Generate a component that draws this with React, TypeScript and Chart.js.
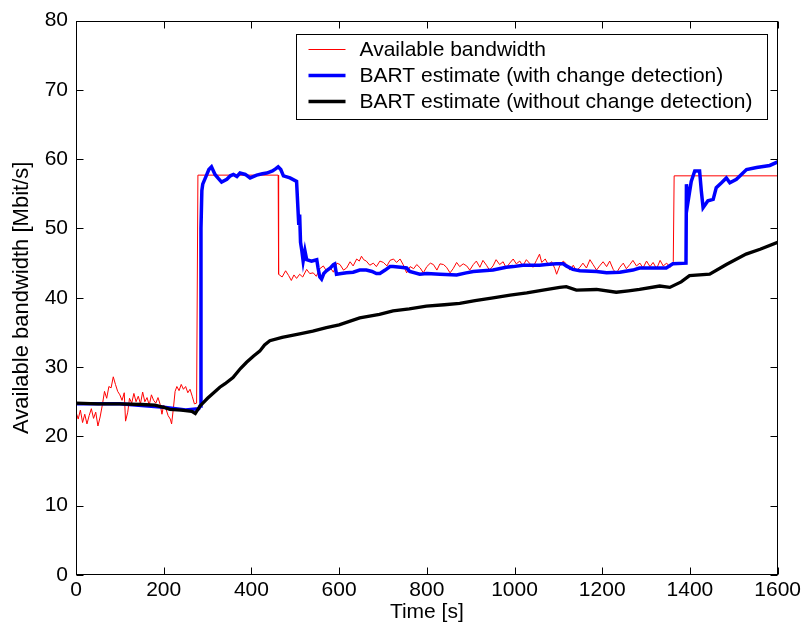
import React, { useEffect, useRef } from 'react';
import { Chart, registerables } from 'chart.js';

Chart.register(...registerables);

const FONT = '"Liberation Sans", Arial, Helvetica, sans-serif';

// Available bandwidth (red)
const redTime = [
  0, 5, 10, 15, 20, 25, 30, 35, 40, 45, 50, 55, 60, 65, 70, 75, 80, 85, 90, 95, 100, 105, 110, 113, 118, 122,
  127, 132, 137, 142, 147, 152, 157, 162, 167, 172, 177, 182, 187, 192, 196, 200, 205, 210, 215, 218, 222, 226,
  230, 235, 240, 245, 250, 255, 260, 265, 270, 275, 278, 461, 462, 470, 478, 485, 491, 497, 503, 510, 517, 526,
  533, 541, 548, 556, 564, 571, 579, 587, 595, 602, 610, 617, 625, 632, 640, 646, 651, 656, 662, 670, 678, 685,
  693, 701, 709, 716, 724, 731, 739, 746, 754, 762, 770, 777, 785, 792, 800, 808, 815, 823, 830, 838, 845, 853,
  860, 868, 875, 883, 891, 898, 906, 913, 921, 928, 936, 943, 951, 958, 966, 974, 981, 989, 997, 1004, 1012,
  1019, 1027, 1034, 1042, 1050, 1057, 1062, 1070, 1077, 1085, 1092, 1096, 1103, 1111, 1118, 1126, 1134, 1141,
  1149, 1156, 1164, 1172, 1179, 1187, 1194, 1202, 1210, 1217, 1225, 1232, 1240, 1248, 1255, 1263, 1270, 1278,
  1286, 1293, 1301, 1309, 1316, 1324, 1332, 1339, 1347, 1355, 1362, 1364, 1600,
];
const redValue = [
  23.5, 22.5, 23.8, 22.0, 23.2, 21.8, 23.0, 24.0, 22.6, 23.5, 21.5, 22.8, 24.5, 26.5, 25.5, 27.2, 27.0, 28.6,
  27.5, 26.5, 26.0, 25.2, 26.3, 22.2, 23.5, 25.5, 24.8, 26.2, 25.0, 25.8, 24.7, 26.4, 25.0, 25.6, 24.5, 26.0,
  25.2, 24.8, 25.6, 24.6, 23.2, 24.5, 24.0, 23.0, 22.5, 21.8, 24.0, 26.5, 27.2, 26.6, 27.5, 26.8, 27.2, 26.3,
  26.8, 25.8, 24.7, 24.8, 57.7, 57.7, 43.4, 43.0, 43.9, 43.2, 42.5, 43.3, 42.8, 43.4, 43.0, 44.1, 43.5, 43.6,
  43.1, 44.2, 44.6, 43.9, 44.4, 43.7, 45.0, 44.8, 44.0, 44.3, 45.2, 44.6, 45.6, 45.3, 46.0, 45.5, 45.3, 44.7,
  45.0, 44.5, 45.3, 45.1, 44.6, 45.4, 45.6, 45.1, 45.6, 44.8, 43.6, 44.5, 44.2, 44.8, 44.3, 43.6, 44.5, 45.0,
  44.8, 44.0, 44.9, 44.8, 44.4, 43.6, 44.2, 45.1, 44.5, 44.9, 44.6, 44.0, 44.8, 45.3, 44.4, 45.4, 44.7, 44.0,
  44.6, 45.5, 44.8, 45.2, 44.3, 45.0, 45.6, 44.9, 45.3, 44.6, 45.5, 45.0, 44.4, 45.4, 46.3, 45.1, 45.6, 44.8,
  45.2, 44.2, 43.4, 44.6, 45.3, 44.9, 44.0, 44.7, 43.9, 44.4, 45.0, 44.3, 45.5, 44.8, 44.0, 44.6, 45.2, 44.5,
  45.3, 44.1, 43.5, 44.4, 45.0, 44.2, 44.8, 45.4, 44.6, 45.0, 44.3, 45.3, 44.5, 45.1, 44.2, 45.4, 44.6, 45.0,
  44.4, 45.2, 57.6, 57.6,
];

// BART estimate with change detection (blue)
const blueTime = [
  0, 100, 200, 250, 280, 283, 285, 287, 289, 297, 303, 309, 317, 325, 332, 344, 352, 359, 367, 374, 380, 386,
  397, 412, 425, 435, 448, 455, 461, 467, 473, 488, 503, 506, 508, 510, 512, 515, 518, 522, 526, 537, 549, 552,
  556, 560, 565, 571, 580, 587, 590, 594, 605, 617, 632, 647, 662, 675, 685, 693, 705, 716, 723, 740, 754, 761,
  784, 800, 830, 868, 890, 906, 951, 981, 997, 1019, 1057, 1073, 1095, 1111, 1118, 1133, 1149, 1187, 1210, 1240,
  1270, 1285, 1346, 1361, 1391, 1392, 1396, 1399, 1403, 1411, 1422, 1426, 1430, 1441, 1453, 1460, 1472, 1483,
  1491, 1506, 1529, 1552, 1582, 1600,
];
const blueValue = [
  24.7, 24.7, 24.2, 23.8, 24.0, 24.4, 50.0, 55.5, 56.4, 57.6, 58.5, 58.9, 57.8, 57.2, 56.7, 57.1, 57.6, 57.8,
  57.5, 58.0, 57.9, 57.8, 57.3, 57.7, 57.9, 58.0, 58.3, 58.6, 58.9, 58.5, 57.6, 57.3, 56.8, 53.0, 50.5, 52.0,
  48.0, 46.8, 45.3, 46.8, 45.5, 45.3, 45.5, 44.3, 43.0, 42.7, 43.5, 43.9, 44.3, 44.8, 44.9, 43.4, 43.5, 43.6,
  43.7, 44.0, 44.0, 43.8, 43.5, 43.5, 44.0, 44.5, 44.5, 44.4, 44.3, 43.8, 43.4, 43.5, 43.4, 43.3, 43.6, 43.8,
  44.0, 44.4, 44.5, 44.7, 44.7, 44.8, 44.9, 44.9, 44.6, 44.1, 43.9, 43.8, 43.6, 43.7, 44.0, 44.3, 44.3, 44.9,
  45.0, 56.4, 54.0, 55.2, 56.8, 58.3, 58.3, 55.4, 53.0, 54.0, 54.2, 55.9, 56.6, 57.3, 56.6, 57.1, 58.5, 58.8,
  59.1, 59.6,
];

// BART estimate without change detection (black)
const blackTime = [
  0, 50, 100, 150, 180, 200, 214, 240, 264, 272, 283, 300, 328, 340, 358, 375, 389, 405, 419, 430, 442, 470,
  510, 540, 571, 600, 647, 692, 723, 760, 799, 840, 875, 910, 951, 990, 1028, 1065, 1103, 1118, 1141, 1187,
  1232, 1260, 1285, 1331, 1354, 1380, 1399, 1445, 1483, 1528, 1560, 1600,
];
const blackValue = [
  24.8, 24.7, 24.7, 24.6, 24.5, 24.2, 23.9, 23.8, 23.6, 23.3, 24.4, 25.5, 27.1, 27.6, 28.5, 29.8, 30.7, 31.6,
  32.3, 33.2, 33.8, 34.3, 34.8, 35.2, 35.7, 36.1, 37.1, 37.6, 38.1, 38.4, 38.8, 39.0, 39.2, 39.6, 40.0, 40.4,
  40.7, 41.1, 41.5, 41.6, 41.1, 41.2, 40.8, 41.0, 41.2, 41.7, 41.5, 42.3, 43.2, 43.4, 44.8, 46.3, 47.0, 48.0,
];

const seriesLabels = [
  'Available bandwidth',
  'BART estimate (with change detection)',
  'BART estimate (without change detection)',
];
const xTitle = 'Time [s]';
const yTitle = 'Available bandwidth [Mbit/s]';

const toPoints = (t: number[], v: number[]) => t.map((x, i) => ({ x, y: v[i] }));

const framePlugin = {
  id: 'matlabFrame',
  afterDraw(chart: any) {
    const { ctx, chartArea, scales } = chart;
    const { left, right, top, bottom } = chartArea;
    ctx.save();
    ctx.strokeStyle = '#000';
    ctx.lineWidth = 1;
    const L = Math.round(left) + 0.5;
    const R = Math.round(right) - 0.5;
    const T = Math.round(top) + 0.5;
    const B = Math.round(bottom) - 0.5;
    ctx.strokeRect(L, T, R - L, B - T);
    const tl = 7;
    ctx.beginPath();
    scales.x.ticks.forEach((tk: any) => {
      const px = Math.round(scales.x.getPixelForValue(tk.value)) + 0.5;
      ctx.moveTo(px, B);
      ctx.lineTo(px, B - tl);
      ctx.moveTo(px, T);
      ctx.lineTo(px, T + tl);
    });
    scales.y.ticks.forEach((tk: any) => {
      const py = Math.round(scales.y.getPixelForValue(tk.value)) + 0.5;
      ctx.moveTo(L, py);
      ctx.lineTo(L + tl, py);
      ctx.moveTo(R, py);
      ctx.lineTo(R - tl, py);
    });
    ctx.stroke();

    // legend
    ctx.font = `21px ${FONT}`;
    const ds = chart.data.datasets;
    let maxW = 0;
    ds.forEach((d: any) => {
      maxW = Math.max(maxW, ctx.measureText(d.label).width);
    });
    const boxRight = Math.round(right) - 10.5;
    const boxLeft = Math.round(boxRight - (maxW + 63 + 16)) + 0.5;
    const boxTop = Math.round(top) + 13.5;
    const rowH = 26;
    const boxBottom = boxTop + 14 + rowH * 2 + 18 + 1;
    ctx.fillStyle = '#fff';
    ctx.fillRect(boxLeft, boxTop, boxRight - boxLeft, boxBottom - boxTop);
    ctx.strokeStyle = '#000';
    ctx.lineWidth = 1;
    ctx.strokeRect(boxLeft, boxTop, boxRight - boxLeft, boxBottom - boxTop);
    ds.forEach((d: any, i: number) => {
      const yy = boxTop + 15 + rowH * i;
      ctx.strokeStyle = d.borderColor;
      ctx.lineWidth = d.borderWidth;
      ctx.beginPath();
      ctx.moveTo(boxLeft + 12, yy);
      ctx.lineTo(boxLeft + 49, yy);
      ctx.stroke();
      ctx.fillStyle = '#000';
      ctx.textBaseline = 'middle';
      ctx.textAlign = 'left';
      ctx.fillText(d.label, boxLeft + 63, yy + 1);
    });
    ctx.restore();
  },
};

export default function App() {
  const ref = useRef<HTMLCanvasElement | null>(null);

  useEffect(() => {
    document.body.style.margin = '0';
    if (!ref.current) return;
    const tickFont = { family: FONT, size: 21 };
    const chart = new Chart(ref.current, {
      type: 'line',
      data: {
        datasets: [
          {
            label: seriesLabels[0],
            data: toPoints(redTime, redValue),
            borderColor: '#ff0000',
            borderWidth: 1,
            pointRadius: 0,
            tension: 0,
            order: 3,
          },
          {
            label: seriesLabels[1],
            data: toPoints(blueTime, blueValue),
            borderColor: '#0000ff',
            borderWidth: 3.5,
            pointRadius: 0,
            tension: 0,
            order: 2,
          },
          {
            label: seriesLabels[2],
            data: toPoints(blackTime, blackValue),
            borderColor: '#000000',
            borderWidth: 3.3,
            pointRadius: 0,
            tension: 0,
            order: 1,
          },
        ],
      },
      options: {
        animation: false,
        responsive: false,
        events: [],
        layout: { padding: { left: 0, right: 26, top: 19, bottom: 0 } },
        plugins: {
          legend: { display: false },
          tooltip: { enabled: false },
        },
        scales: {
          x: {
            type: 'linear',
            min: 0,
            max: 1600,
            ticks: {
              stepSize: 200,
              color: '#000',
              font: tickFont,
              padding: 3,
              maxRotation: 0,
              callback: (v: any) => String(v),
            },
            grid: { display: false, drawTicks: false },
            border: { display: false },
            title: {
              display: true,
              text: xTitle,
              color: '#000',
              font: tickFont,
              padding: { top: 0, bottom: 3 },
            },
            afterFit: (s: any) => {
              s.height = 53;
            },
          },
          y: {
            type: 'linear',
            min: 0,
            max: 80,
            ticks: { stepSize: 10, color: '#000', font: tickFont, padding: 8, callback: (v: any) => String(v) },
            grid: { display: false, drawTicks: false },
            border: { display: false },
            title: {
              display: true,
              text: yTitle,
              color: '#000',
              font: { family: FONT, size: 22 },
              padding: { top: 9, bottom: 0 },
            },
            afterFit: (s: any) => {
              s.width = 76;
            },
          },
        },
      },
      plugins: [framePlugin],
    });
    return () => chart.destroy();
  }, []);

  return (
    <div style={{ width: 804, height: 628, background: '#fff' }}>
      <canvas ref={ref} width={804} height={628} style={{ display: 'block' }} />
    </div>
  );
}
